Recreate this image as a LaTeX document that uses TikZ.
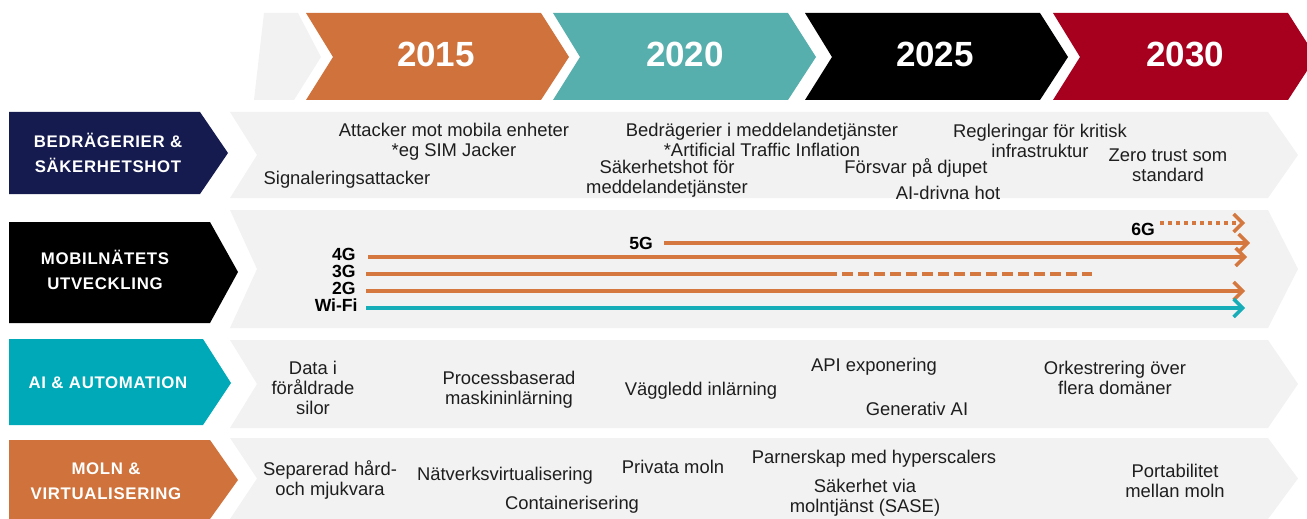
\documentclass[tikz,border=0pt]{standalone}
\usepackage{fontspec}
\setmainfont{Liberation Sans}
\newfontfamily\labelfont[LetterSpace=4.0]{Liberation Sans}
\usetikzlibrary{arrows.meta}
\definecolor{yorange}{HTML}{D0723C}
\definecolor{yteal}{HTML}{57AFAD}
\definecolor{yred}{HTML}{A6001E}
\definecolor{navy}{HTML}{151B4F}
\definecolor{lteal}{HTML}{00A9B7}
\definecolor{lorange}{HTML}{CF723B}
\definecolor{bandgray}{HTML}{F2F2F2}
\definecolor{netorange}{HTML}{D4783F}
\definecolor{netteal}{HTML}{16ADB9}
\definecolor{txtgray}{HTML}{1E1E1E}
\tikzstyle{netarrow} = [line width=1.7pt,-{Straight Barb[length=4.5pt,width=9pt]}]
\tikzset{item/.style={align=center,text=txtgray,inner sep=0pt,font=\fontsize{9.2}{10}\selectfont},
  rowlabel/.style={align=center,text=white,inner sep=0pt,font=\labelfont\bfseries\fontsize{8.4}{12.5}\selectfont},
  year/.style={text=white,inner sep=0pt,font=\bfseries\fontsize{17.5}{20}\selectfont},
  gen/.style={text=black,inner sep=0pt,font=\bfseries\fontsize{8.8}{10}\selectfont}}

\begin{document}
\begin{tikzpicture}[x=0.5pt,y=-0.5pt]
    \useasboundingbox (0,0) rectangle (1307,519);

    % year chevrons
    \fill[bandgray] (264,13) -- (298,13) -- (321,57) -- (294,100) -- (254,100) -- cycle;
    \foreach \l/\yr/\col/\tx in {306/2015/yorange/436, 553/2020/yteal/685, 805/2025/black/935, 1053/2030/yred/1185} {
        \fill[\col] (\l,13) -- ({\l+235},13) -- ({\l+263},57) -- ({\l+235},100) -- (\l,100) -- ({\l+27},57) -- cycle;
        \node[year] (year\yr) at (\tx,54) {\yr};
    }

    % grey bands
    \foreach \t/\b in {112/198, 210/328, 340/428, 438/519} {
        \fill[bandgray] (230,\t) -- (1268,\t) -- (1298,{(\t+\b)/2}) -- (1268,\b) -- (230,\b) -- (257,{(\t+\b)/2}) -- cycle;
    }

    % row labels
    \foreach \t/\b/\r/\m/\col in {112/194/200/153/navy, 222/323/210/272/black, 339/425/203/383/lteal, 440/519/210/480/lorange} {
        \fill[\col] (9,\t) -- (\r,\t) -- ({\r+28},\m) -- (\r,\b) -- (9,\b) -- cycle;
    }
    \node[rowlabel] (fraud) at (108,153) {BEDRÄGERIER \&\\SÄKERHETSHOT};
    \node[rowlabel] (mobile) at (105,270) {MOBILNÄTETS\\UTVECKLING};
    \node[rowlabel] (ai) at (108,383) {AI \& AUTOMATION};
    \node[rowlabel] (cloud) at (106,481) {MOLN \&\\VIRTUALISERING};

    % fraud and threats
    \node[item] (atk) at (454,142) {Attacker mot mobila enheter\\*eg SIM Jacker};
    \node[item] (sig) at (347,180) {Signaleringsattacker};
    \node[item] (bedr) at (762,140) {Bedrägerier i meddelandetjänster\\*Artificial Traffic Inflation};
    \node[item] (sakhot) at (667,179) {Säkerhetshot för\\meddelandetjänster};
    \node[item] (regl) at (1040,141) {Regleringar för kritisk\\infrastruktur};
    \node[item] (forsv) at (916,168) {Försvar på djupet};
    \node[item] (aihot) at (948,193) {AI-drivna hot};
    \node[item] (zero) at (1168,165) {Zero trust som\\standard};

    % mobile generations
    \node[gen, anchor=east] (lbl4g) at (356,254) {4G};
    \node[gen, anchor=east] (lbl3g) at (356,271) {3G};
    \node[gen, anchor=east] (lbl2g) at (356,288) {2G};
    \node[gen, anchor=east] (lblwifi) at (358,305) {Wi-Fi};
    \node[gen] (lbl5g) at (641,243) {5G};
    \node[gen] (lbl6g) at (1143,229) {6G};
    \coordinate (g6s) at (1160,223); \coordinate (g6e) at (1245,223);
    \coordinate (g5s) at (664,243); \coordinate (g5e) at (1250,243);
    \coordinate (g4s) at (368,257); \coordinate (g4e) at (1247,257);
    \coordinate (g3s) at (366,274); \coordinate (g3m) at (826,274); \coordinate (g3e) at (1092,274);
    \coordinate (g2s) at (366,291); \coordinate (g2e) at (1245,291);
    \coordinate (wfs) at (366,308); \coordinate (wfe) at (1245,308);
    \draw[netarrow, netorange, dash pattern=on 2pt off 2pt] (g6s) -- (g6e);
    \draw[netarrow, netorange] (g5s) -- (g5e);
    \draw[netarrow, netorange] (g4s) -- (g4e);
    \draw[line width=1.7pt, netorange] (g3s) -- (g3m);
    \draw[line width=1.7pt, netorange, dash pattern=on 5.5pt off 2.5pt] (g3m) -- (g3e);
    \draw[netarrow, netorange] (g2s) -- (g2e);
    \draw[netarrow, netteal] (wfs) -- (wfe);

    % ai and automation
    \node[item] (data) at (313,388) {Data i\\föråldrade\\silor};
    \node[item] (proc) at (509,390) {Processbaserad\\maskininlärning};
    \node[item] (vagg) at (701,391) {Väggledd inlärning};
    \node[item] (api) at (874,367) {API exponering};
    \node[item] (genai) at (917,409) {Generativ AI};
    \node[item] (orke) at (1115,378) {Orkestrering över\\flera domäner};

    % cloud and virtualisation
    \node[item] (sep) at (330,480) {Separerad hård-\\och mjukvara};
    \node[item] (natv) at (505,476) {Nätverksvirtualisering};
    \node[item] (priv) at (673,467) {Privata moln};
    \node[item] (cont) at (572,505) {Containerisering};
    \node[item] (parn) at (874,459) {Parnerskap med hyperscalers};
    \node[item] (sase) at (865,498) {Säkerhet via\\molntjänst (SASE)};
    \node[item] (port) at (1175,481) {Portabilitet\\mellan moln};
\end{tikzpicture}
\end{document}
